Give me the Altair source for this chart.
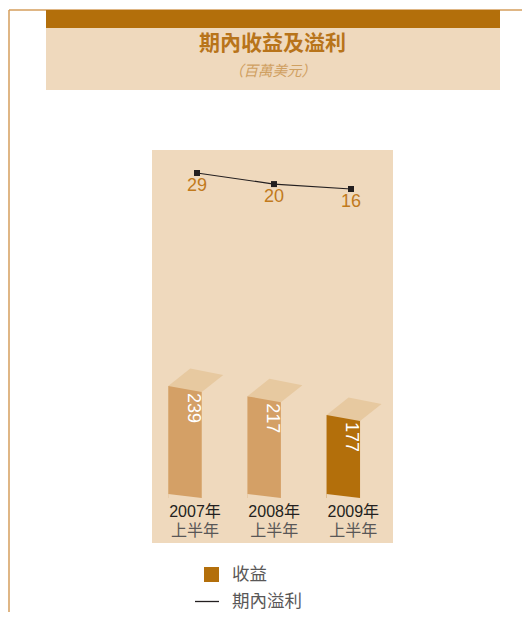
import altair as alt
import pandas as pd

# ---- data ----
years = ["2007", "2008", "2009"]
year_line1 = ["2007年", "2008年", "2009年"]
year_line2 = ["上半年", "上半年", "上半年"]
revenue = [239, 217, 177]          # 收益
profit = [29, 20, 16]              # 期內溢利
kind = ["past", "past", "current"]
legend_labels = ["收益", "期內溢利"]
title_text = "期內收益及溢利"
subtitle_text = "（百萬美元）"

df = pd.DataFrame({
    "year": years, "line1": year_line1, "line2": year_line2,
    "revenue": revenue, "profit": profit, "kind": kind, "zero": [0, 0, 0],
})
one = pd.DataFrame({"k": [0]})

# ---- style ----
W, H = 514, 604
PANEL = "#EFD9BD"
DARK = "#B36F0B"
LIGHTBAR = "#D4A066"
TOPFACE = "#E7C9A0"
FRAME = "#D59E5C"
MIX = "'Liberation Sans', 'Noto Sans CJK TC'"
CJK = "Noto Sans CJK TC"

x_bar = alt.Scale(type="point", domain=years, range=[177, 335.3], padding=0)
y_bar = alt.Scale(domain=[0, 1045.6], range=[490, 0], nice=False, zero=False)
x_line = alt.Scale(type="point", domain=years, range=[189, 343], padding=0)
y_line = alt.Scale(domain=[0, 163.06], range=[200.69, 0], nice=False, zero=False)

base_one = alt.Chart(one)
base = alt.Chart(df)

# frame lines
frame_left = base_one.mark_rule(color=FRAME, strokeWidth=1.5).encode(
    x=alt.value(1), y=alt.value(2), y2=alt.value(H))
frame_top = base_one.mark_rule(color=FRAME, strokeWidth=1.5).encode(
    x=alt.value(1), x2=alt.value(W), y=alt.value(2))

# header
head_dark = base_one.mark_rect(color=DARK).encode(
    x=alt.value(38), x2=alt.value(492), y=alt.value(2), y2=alt.value(20))
head_light = base_one.mark_rect(color=PANEL).encode(
    x=alt.value(38), x2=alt.value(492), y=alt.value(20), y2=alt.value(82))
title = base_one.mark_text(font=CJK, fontSize=21, fontWeight="bold", color="#B8741A",
                           baseline="middle").encode(
    x=alt.value(264.5), y=alt.value(36), text=alt.value(title_text))
subtitle = base_one.mark_text(font=CJK, fontSize=14.5, fontStyle="italic", color="#CFA061",
                              baseline="middle").encode(
    x=alt.value(264.5), y=alt.value(64), text=alt.value(subtitle_text))

# plot panel
panel = base_one.mark_rect(color=PANEL).encode(
    x=alt.value(144), x2=alt.value(385), y=alt.value(142), y2=alt.value(535))

# bars (front face)
bars = base.mark_bar(width=33.5).encode(
    x=alt.X("year:N", scale=x_bar, axis=None),
    y=alt.Y("revenue:Q", scale=y_bar, axis=None, stack=None),
    y2=alt.Y2("zero:Q"),
    color=alt.Color("kind:N", scale=alt.Scale(domain=["past", "current"],
                                              range=[LIGHTBAR, DARK]), legend=None),
)
# slanted bottom edge
tri_path = "M -1 -0.119 L -1 0.2 L 1 0.2 L 1 0.119 Z"
bottoms = base.mark_point(shape=tri_path, size=1122, filled=True, opacity=1,
                          color=PANEL, strokeWidth=0, yOffset=-2).encode(
    x=alt.X("year:N", scale=x_bar, axis=None),
    y=alt.Y("zero:Q", scale=y_bar, axis=None),
)
# top face (parallelogram)
top_path = "M -1 0.209 L 0.218 0.427 L 1 -0.191 L -0.2 -0.427 Z"
tops = base.mark_point(shape=top_path, size=3025, filled=True, opacity=1,
                       color=TOPFACE, strokeWidth=0, xOffset=10.75, yOffset=-5.75).encode(
    x=alt.X("year:N", scale=x_bar, axis=None),
    y=alt.Y("revenue:Q", scale=y_bar, axis=None),
)
bar_labels = base.mark_text(angle=90, align="left", baseline="middle", dx=7, dy=-7.5,
                            font=MIX, fontSize=18, color="white").encode(
    x=alt.X("year:N", scale=x_bar, axis=None),
    y=alt.Y("revenue:Q", scale=y_bar, axis=None),
    text="revenue:Q",
)
year_lab1 = base.mark_text(baseline="middle", dx=10, dy=14, font=MIX, fontSize=16,
                           color="#231F20").encode(
    x=alt.X("year:N", scale=x_bar, axis=None),
    y=alt.Y("zero:Q", scale=y_bar, axis=None),
    text="line1:N",
)
year_lab2 = base.mark_text(baseline="middle", dx=10, dy=33, font=MIX, fontSize=16,
                           color="#595757").encode(
    x=alt.X("year:N", scale=x_bar, axis=None),
    y=alt.Y("zero:Q", scale=y_bar, axis=None),
    text="line2:N",
)

# profit line
line = base.mark_line(color="#231F20", strokeWidth=1.2).encode(
    x=alt.X("year:N", scale=x_line, axis=None),
    y=alt.Y("profit:Q", scale=y_line, axis=None),
)
pts = base.mark_square(size=36, color="#231F20", opacity=1).encode(
    x=alt.X("year:N", scale=x_line, axis=None),
    y=alt.Y("profit:Q", scale=y_line, axis=None),
)
pt_labels = base.mark_text(baseline="middle", dy=13, font=MIX, fontSize=18,
                           color="#C17A1C").encode(
    x=alt.X("year:N", scale=x_line, axis=None),
    y=alt.Y("profit:Q", scale=y_line, axis=None),
    text="profit:Q",
)

# legend
leg_sq = base_one.mark_square(size=225, color=DARK, opacity=1).encode(
    x=alt.value(203.5), y=alt.value(566.5))
leg_t1 = base_one.mark_text(align="left", baseline="middle", font=CJK, fontSize=17.5,
                            color="#595757").encode(
    x=alt.value(224), y=alt.value(566.5), text=alt.value(legend_labels[0]))
leg_line = base_one.mark_rule(color="#231F20", strokeWidth=1.3).encode(
    x=alt.value(187), x2=alt.value(211), y=alt.value(593.5))
leg_t2 = base_one.mark_text(align="left", baseline="middle", font=CJK, fontSize=17.5,
                            color="#595757").encode(
    x=alt.value(224), y=alt.value(593.5), text=alt.value(legend_labels[1]))

chart = alt.layer(
    frame_left, frame_top, head_dark, head_light, title, subtitle, panel,
    bars, bottoms, tops, bar_labels, year_lab1, year_lab2,
    line, pts, pt_labels,
    leg_sq, leg_t1, leg_line, leg_t2,
).resolve_scale(
    x="independent", y="independent", color="independent"
).properties(
    width=W, height=H, padding=0, autosize=alt.AutoSizeParams(type="none"),
    background="white",
).configure_view(stroke=None)

chart.save("out.html", embed_options={"renderer": "svg", "actions": False})
